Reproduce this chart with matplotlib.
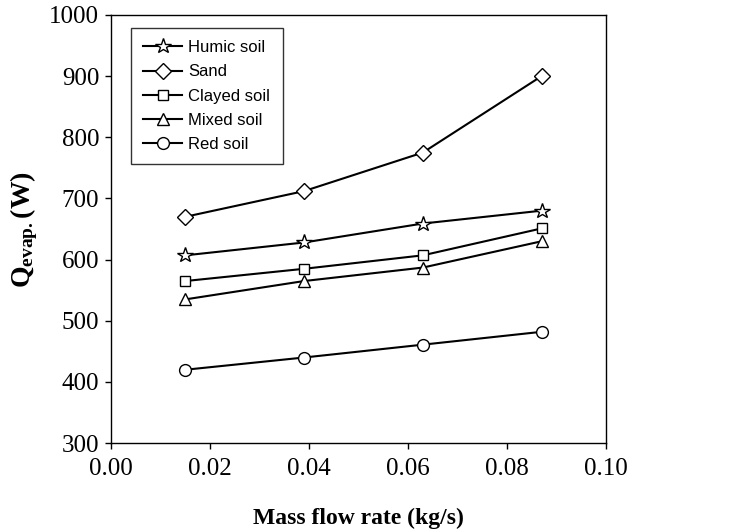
import numpy as np
import matplotlib.pyplot as plt

flow = [0.015, 0.039, 0.063, 0.087]
humic = [607, 628, 659, 680]
sand = [670, 712, 775, 900]
clayed = [565, 585, 607, 651]
mixed = [535, 565, 587, 630]
red = [420, 440, 461, 482]

series = [
    ('Humic soil', humic, '*'),
    ('Sand', sand, 'D'),
    ('Clayed soil', clayed, 's'),
    ('Mixed soil', mixed, '^'),
    ('Red soil', red, 'o'),
]
sizes = {'*': 11.5, 'D': 8, 's': 7.5, '^': 8.5, 'o': 8.5}

plt.rcParams['mathtext.fontset'] = 'custom'
plt.rcParams['mathtext.rm'] = 'Liberation Serif'
plt.rcParams['mathtext.bf'] = 'Liberation Serif:bold'

fig = plt.figure(figsize=(7.31, 5.32), dpi=100)
ax = fig.add_axes([0.152, 0.167, 0.677, 0.805])

for name, vals, m in series:
    ax.plot(flow, vals, color='black', lw=1.5, marker=m, ms=sizes[m],
            mfc='white', mec='black', mew=1.0, label=name)

ax.set_xlim(0, 0.10)
ax.set_ylim(300, 1000)
ax.set_xticks(np.arange(0, 0.101, 0.02))
ax.set_yticks(np.arange(300, 1001, 100))
ax.set_xticklabels(['0.00', '0.02', '0.04', '0.06', '0.08', '0.10'])
ax.tick_params(direction='out', length=4.5, width=1, labelsize=18, pad=4)
ax.tick_params(axis='x', pad=6)
for lab in ax.get_xticklabels() + ax.get_yticklabels():
    lab.set_family('Liberation Serif')
for sp in ax.spines.values():
    sp.set_linewidth(1)

ax.set_xlabel('Mass flow rate (kg/s)', family='Liberation Serif', fontsize=17,
              fontweight='bold', labelpad=20)
ax.set_ylabel(r'$\mathbf{Q_{evap.}(W)}$', fontsize=20, labelpad=7)

leg = ax.legend(loc='upper left', bbox_to_anchor=(0.040, 0.970), borderaxespad=0,
                frameon=True, fancybox=False, edgecolor='black',
                prop={'family': 'Liberation Sans', 'size': 12},
                handlelength=2.3, handletextpad=0.4, labelspacing=0.55, borderpad=0.75)
leg.get_frame().set_linewidth(1)

fig.savefig('out.png', dpi=100)
